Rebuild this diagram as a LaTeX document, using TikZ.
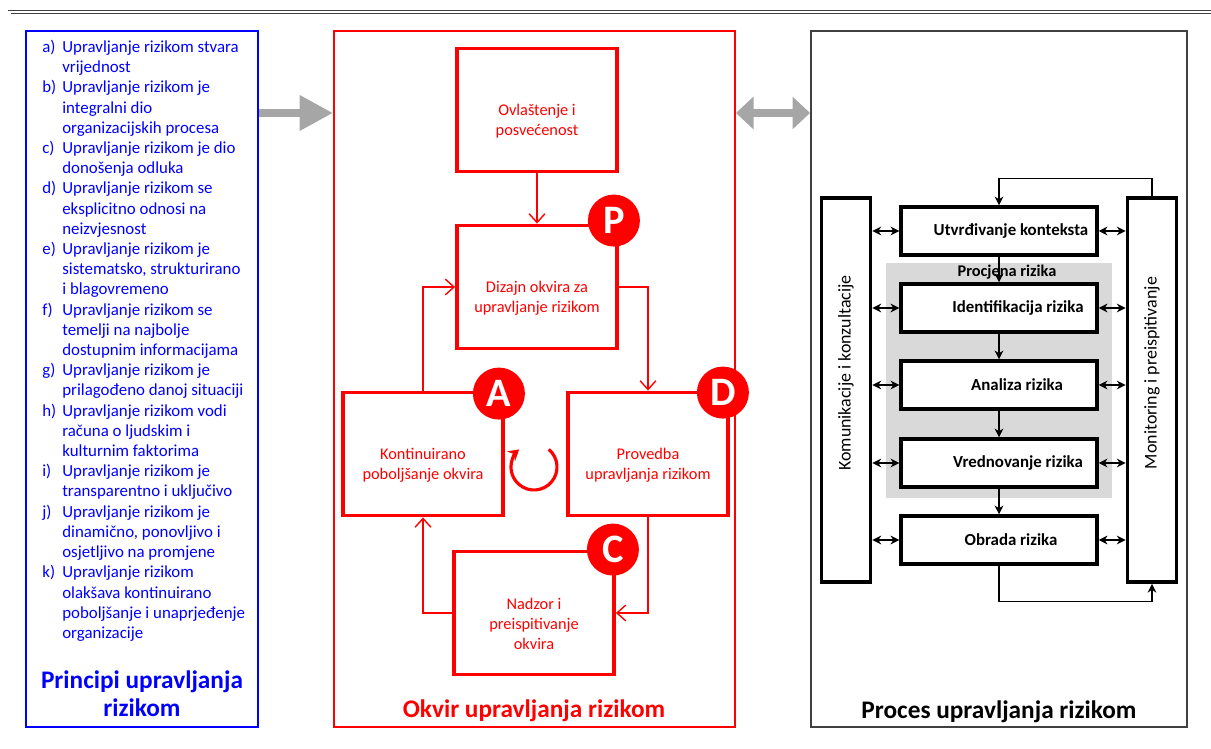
\documentclass[tikz,border=0pt]{standalone}
\usepackage{fontspec}
\setmainfont{Carlito}
\usetikzlibrary{arrows.meta}
\definecolor{okvirred}{RGB}{255,0,0}
\definecolor{principblue}{RGB}{0,0,255}
\definecolor{strelgray}{RGB}{166,166,166}
\definecolor{procgray}{RGB}{217,217,217}
\definecolor{framegray}{RGB}{64,64,64}
\begin{document}
\begin{tikzpicture}[x=0.02cm,y=-0.02cm,
    redbox/.style={draw=okvirred,line width=2.2pt,minimum width=3.2cm,minimum height=2.46cm,align=center,text=okvirred,font=\fontsize{9.3}{11.4}\selectfont},
    badge/.style={circle,fill=okvirred,minimum size=1.04cm,inner sep=0pt,text=white,font=\fontsize{23}{23}\selectfont\bfseries},
    redline/.style={okvirred,line width=0.8pt,-{Straight Barb[length=5pt,width=9pt]}},
    stepbox/.style={draw,line width=2pt,fill=white,minimum width=3.92cm,minimum height=0.96cm,inner xsep=1pt,font=\fontsize{9.6}{11}\selectfont\bfseries},
    sidebox/.style={draw,line width=2.2pt,minimum width=0.98cm,minimum height=7.68cm,inner sep=0pt,font=\fontsize{10.2}{12}\selectfont},
    blackline/.style={line width=0.6pt,-{Stealth[length=5pt,width=5pt]}},
    bothline/.style={line width=0.6pt,{Stealth[length=5pt,width=5pt]}-{Stealth[length=5pt,width=5pt]}},
    title/.style={font=\fontsize{14.4}{16}\selectfont\bfseries,align=center}]
\useasboundingbox (0,0) rectangle (1211,749);
\draw[framegray,line width=0.5pt,double,double distance=1.2pt] (9.5,749)--(9.5,12)--(1211,12);

\node[draw=principblue,line width=1.1pt,minimum width=4.64cm,minimum height=13.92cm] (principi) at (142,379) {};
\node[draw=okvirred,line width=1.1pt,minimum width=8.02cm,minimum height=13.92cm] (okvir) at (534.5,379) {};
\node[draw=framegray,line width=1.1pt,minimum width=7.52cm,minimum height=13.92cm] (proces) at (999,379) {};

\node[anchor=north west,inner sep=0pt,text=principblue,font=\fontsize{9.6}{11.5}\selectfont] (popis) at (42,38)
{\begin{tabular}{@{}p{0.4cm}@{}l@{}}
a) & Upravljanje rizikom stvara\\
 & vrijednost\\
b) & Upravljanje rizikom je\\
 & integralni dio\\
 & organizacijskih procesa\\
c) & Upravljanje rizikom je dio\\
 & donošenja odluka\\
d) & Upravljanje rizikom se\\
 & eksplicitno odnosi na\\
 & neizvjesnost\\
e) & Upravljanje rizikom je\\
 & sistematsko, strukturirano\\
 & i blagovremeno\\
f) & Upravljanje rizikom se\\
 & temelji na najbolje\\
 & dostupnim informacijama\\
g) & Upravljanje rizikom je\\
 & prilagođeno danoj situaciji\\
h) & Upravljanje rizikom vodi\\
 & računa o ljudskim i\\
 & kulturnim faktorima\\
i) & Upravljanje rizikom je\\
 & transparentno i uključivo\\
j) & Upravljanje rizikom je\\
 & dinamično, ponovljivo i\\
 & osjetljivo na promjene\\
k) & Upravljanje rizikom\\
 & olakšava kontinuirano\\
 & poboljšanje i unaprjeđenje\\
 & organizacije
\end{tabular}};
\node[title,text=principblue] (principinaslov) at (142,694) {Principi upravljanja\\rizikom};

\node[redbox] (ovlastenje) at (537,110) {\strut\\Ovlaštenje i\\posvećenost};
\node[redbox] (dizajn) at (537,287) {\strut\\Dizajn okvira za\\upravljanje rizikom};
\node[redbox] (kontinuirano) at (423,454) {\strut\\Kontinuirano\\poboljšanje okvira};
\node[redbox] (provedba) at (648,454) {\strut\\Provedba\\upravljanja rizikom};
\node[redbox] (nadzor) at (534,613) {\strut\\Nadzor i\\preispitivanje\\okvira};
\draw[redline] (ovlastenje)--(dizajn);
\draw[redline] (dizajn.east)-|(provedba.north);
\draw[redline] (provedba.south)|-(nadzor.east);
\draw[redline] (nadzor.west)-|(kontinuirano.south);
\draw[redline] (kontinuirano.north)|-(dizajn.west);
\node[badge] (slovoP) at ([shift={(-5,-3)}]dizajn.north east) {P};
\node[badge] (slovoA) at ([shift={(-6,3)}]kontinuirano.north east) {A};
\node[badge] (slovoD) at ([shift={(-7,2)}]provedba.north east) {D};
\node[badge] (slovoC) at ([shift={(-3,0)}]nadzor.north east) {C};
\draw[okvirred,line width=1.8pt,-{Stealth[length=6pt,width=7pt]}] (534,467) ++(50:0.46cm) arc[start angle=50,end angle=-230,radius=0.46cm];
\node[title,text=okvirred] (okvirnaslov) at (534,711) {Okvir upravljanja rizikom};

\coordinate (strelica) at (0,113);
\draw[strelgray,line width=5pt,-{Triangle[length=19pt,width=19pt]}] (principi.east |- strelica)--(okvir.west |- strelica);
\draw[strelgray,line width=5pt,{Triangle[length=10pt,width=18pt]}-{Triangle[length=10pt,width=18pt]}] (okvir.east |- strelica)--(proces.west |- strelica);

\fill[procgray] (886,263) rectangle (1112,498);
\node[font=\fontsize{9.3}{11}\selectfont\bfseries] (procjena) at (1007,272) {Procjena rizika};
\node[sidebox] (komunikacija) at (846,390) {\rotatebox{90}{\hspace*{0.68cm}Komunikacije i konzultacije}};
\node[sidebox] (monitoring) at (1152,390) {\rotatebox{90}{\hspace*{0.68cm}Monitoring i preispitivanje}};
\foreach \ime/\tekst/\y/\pom in {utvrdivanje/Utvrđivanje konteksta/231/0.48,identifikacija/Identifikacija rizika/308/0.76,analiza/Analiza rizika/385/0.72,vrednovanje/Vrednovanje rizika/463/0.76,obrada/Obrada rizika/540/0.48}
{
    \node[stepbox] (\ime) at (999,\y) {\hspace*{\pom cm}\tekst};
    \draw[bothline] (komunikacija.east |- \ime.west)--(\ime.west);
    \draw[bothline] (\ime.east)--(monitoring.west |- \ime.east);
}
\foreach \a/\b in {utvrdivanje/identifikacija,identifikacija/analiza,analiza/vrednovanje,vrednovanje/obrada}
{
    \draw[blackline] (\a)--(\b);
}
\draw[blackline] (monitoring.north)--++(0,-18)-|(utvrdivanje.north);
\draw[blackline] (obrada.south)--++(0,36)-|(monitoring.south);
\node[title] (procesnaslov) at (999,712) {Proces upravljanja rizikom};
    \end{tikzpicture}
\end{document}
